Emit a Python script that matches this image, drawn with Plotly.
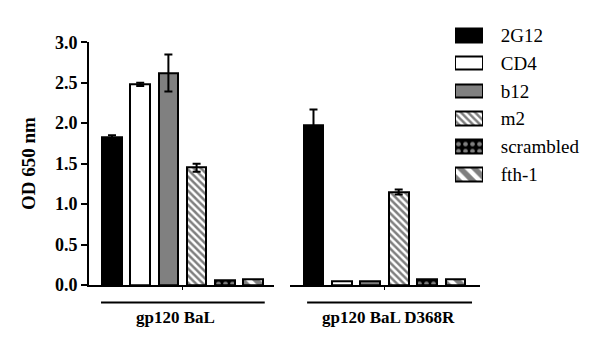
import plotly.graph_objects as go

series = ["2G12", "CD4", "b12", "m2", "scrambled", "fth-1"]
groups = ["gp120 BaL", "gp120 BaL D368R"]
bal = [1.83, 2.48, 2.62, 1.45, 0.06, 0.07]
bal_err = [0.02, 0.02, 0.23, 0.05, 0.0, 0.0]
d368r = [1.97, 0.045, 0.04, 1.15, 0.07, 0.07]
d368r_err = [0.20, 0.0, 0.0, 0.03, 0.0, 0.0]
yticks = [0.0, 0.5, 1.0, 1.5, 2.0, 2.5, 3.0]

fills = [
    dict(color="black"),
    dict(color="white"),
    dict(color="#808080"),
    dict(color="white", pattern=dict(shape="\\", fgcolor="black", bgcolor="white", size=5, solidity=0.5)),
    dict(color="black", pattern=dict(shape=".", fgcolor="white", bgcolor="black", size=7, solidity=0.35)),
    dict(color="white", pattern=dict(shape="\\", fgcolor="black", bgcolor="white", size=10, solidity=0.55)),
]

serif = "Liberation Serif"
fig = go.Figure()

for xa, vals, errs in (("x", bal, bal_err), ("x2", d368r, d368r_err)):
    for i, name in enumerate(series):
        fig.add_trace(go.Bar(
            x=[i], y=[vals[i]], xaxis=xa, yaxis="y", width=0.7,
            marker=dict(**fills[i], line=dict(color="black", width=2)),
            error_y=dict(type="data", array=[errs[i]], visible=errs[i] > 0,
                         color="black", thickness=2, width=4),
            showlegend=False, name=name, hoverinfo="skip",
        ))

# legend swatches as horizontal bars, labels as tick labels of their own axis
for i, name in enumerate(series):
    fig.add_trace(go.Bar(
        x=[1], y=[name], orientation="h", xaxis="x3", yaxis="y3", width=0.49,
        marker=dict(**fills[i], line=dict(color="black", width=2)),
        showlegend=False, hoverinfo="skip",
    ))

fig.update_layout(
    width=592, height=339,
    margin=dict(l=81, r=0, t=2, b=62),
    paper_bgcolor="white", plot_bgcolor="white",
    bargap=0,
    yaxis=dict(domain=[0, 250 / 275], range=[0, 3], tickvals=yticks,
               tickformat=".1f", showline=True, linecolor="black", linewidth=2,
               ticks="outside", ticklen=6, tickwidth=2, tickcolor="black",
               showgrid=False, zeroline=False,
               tickfont=dict(family=serif, size=18, color="black", weight="bold"),
               anchor="x",
               title=dict(text="OD 650 nm", font=dict(family=serif, size=19, color="black", weight="bold"),
                          standoff=14)),
    xaxis=dict(domain=[0, 185 / 511], range=[-0.816, 5.745], anchor="y",
               showline=True, linecolor="black", linewidth=2,
               tickvals=[2.5], ticktext=[""], ticks="outside", ticklen=3, tickwidth=1,
               tickcolor="black", showgrid=False, zeroline=False),
    xaxis2=dict(domain=[201 / 511, 391 / 511], range=[-0.827, 5.863], anchor="y",
                showline=True, linecolor="black", linewidth=2,
                tickvals=[2.5], ticktext=[""], ticks="outside", ticklen=3, tickwidth=1,
                tickcolor="black", showgrid=False, zeroline=False),
    xaxis3=dict(domain=[366 / 511, 394 / 511], range=[0, 1], anchor="y3",
                visible=False, fixedrange=True),
    yaxis3=dict(domain=[0.3625, 0.9865], range=[5.5, -0.5], anchor="x3", side="right",
                showline=False, showgrid=False, zeroline=False,
                ticks="outside", ticklen=13, tickcolor="rgba(0,0,0,0)",
                tickfont=dict(family=serif, size=19, color="black")),
)

under = [("x domain", 0.065, 0.95, 0.47), ("x2 domain", 0.09, 0.958, 0.52)]
for (xref, a, b, c), label in zip(under, groups):
    fig.add_shape(type="line", xref=xref, yref="paper", x0=a, x1=b,
                  y0=-18 / 275, y1=-18 / 275, line=dict(color="black", width=2))
    fig.add_annotation(xref=xref, yref="paper", x=c, y=-33 / 275, text=label,
                       showarrow=False, yanchor="middle",
                       font=dict(family=serif, size=17, color="black", weight="bold"))

fig.write_html("out.html")
